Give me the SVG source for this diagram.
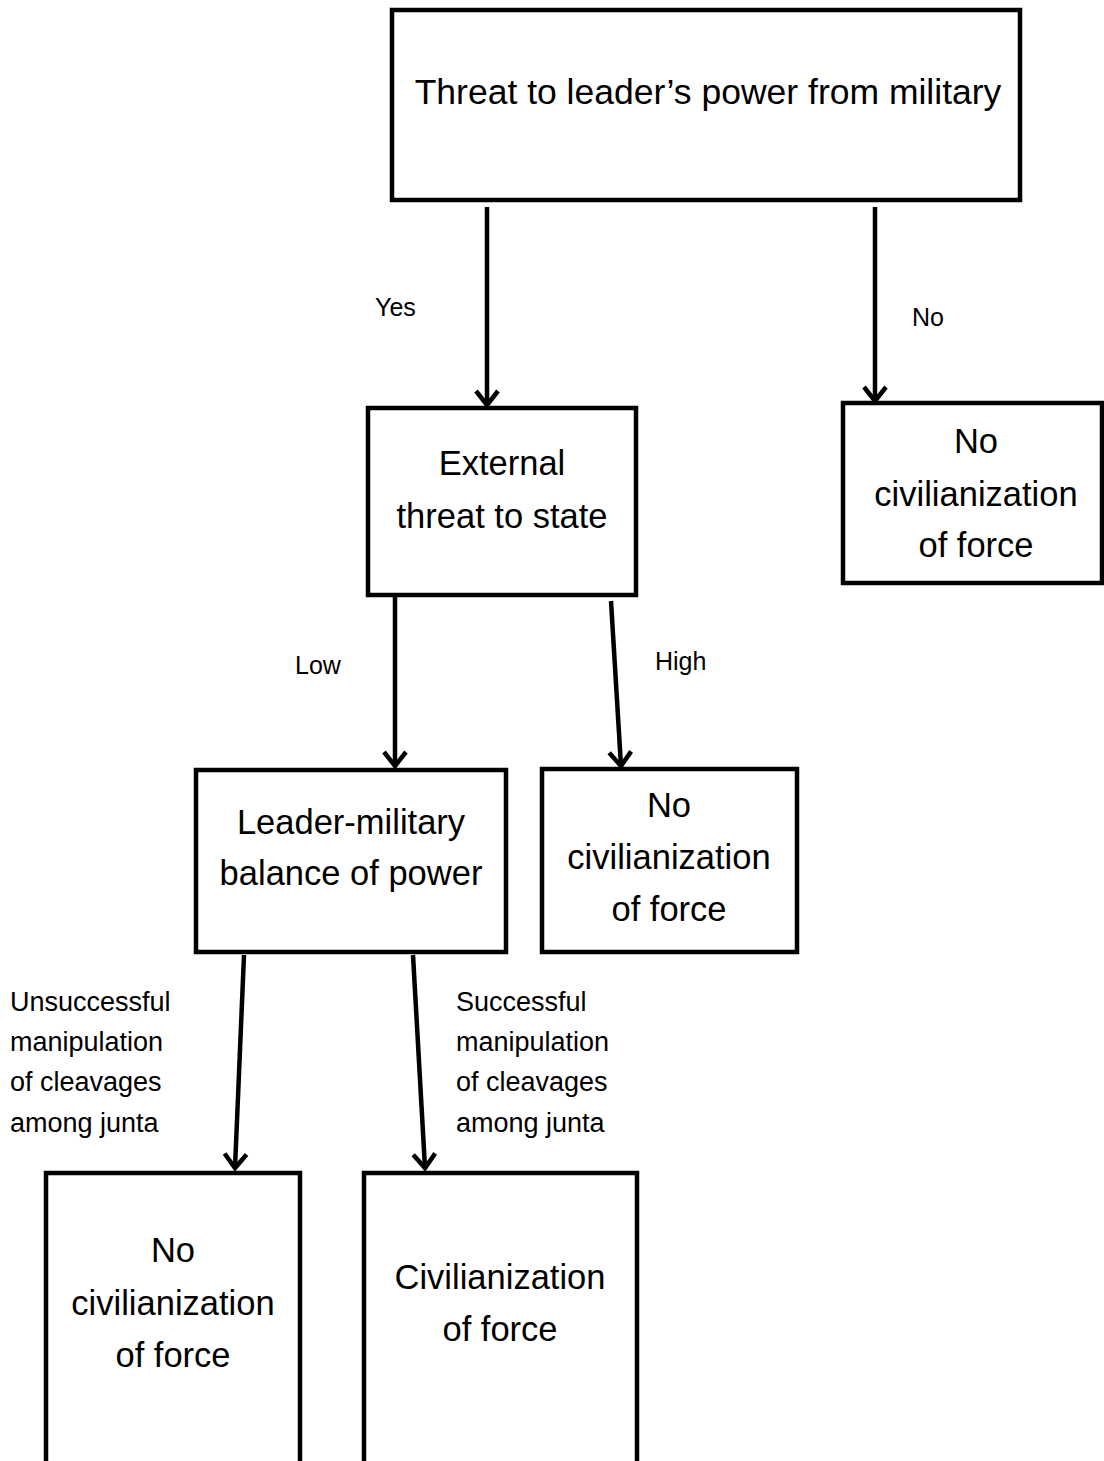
<svg xmlns="http://www.w3.org/2000/svg" width="1104" height="1461" viewBox="0 0 1104 1461">
<style>
.box{fill:#fff;stroke:#000;stroke-width:4.5}
.t{font-family:"Liberation Sans",Arial,sans-serif;font-size:34.5px;fill:#000;text-anchor:middle}
.l{font-family:"Liberation Sans",Arial,sans-serif;font-size:25px;fill:#000}
.m{font-family:"Liberation Sans",Arial,sans-serif;font-size:27px;fill:#000}
.c{stroke:#000;stroke-width:4.5;fill:none}
</style>
<defs>
<marker id="ah" markerUnits="userSpaceOnUse" viewBox="-20 -15 24 30" markerWidth="24" markerHeight="30" refX="0" refY="0" orient="auto">
<path d="M-14,-11 L0,0 L-14,11" fill="none" stroke="#000" stroke-width="4.5" stroke-linejoin="miter"/>
</marker>
</defs>
<rect width="1104" height="1461" fill="#fff"/>
<g id="connectors">
<line class="c" x1="487" y1="207" x2="487" y2="405" marker-end="url(#ah)"/>
<line class="c" x1="875" y1="207" x2="875" y2="401" marker-end="url(#ah)"/>
<line class="c" x1="395" y1="597" x2="395" y2="766" marker-end="url(#ah)"/>
<line class="c" x1="611" y1="601" x2="621" y2="766" marker-end="url(#ah)"/>
<line class="c" x1="244" y1="955" x2="235" y2="1168" marker-end="url(#ah)"/>
<line class="c" x1="413" y1="955" x2="425" y2="1168" marker-end="url(#ah)"/>
<text class="l" x="375" y="316">Yes</text>
<text class="l" x="912" y="326">No</text>
<text class="l" x="295" y="674">Low</text>
<text class="l" x="655" y="670">High</text>
<text class="m" x="10" y="1011">Unsuccessful</text>
<text class="m" x="10" y="1051">manipulation</text>
<text class="m" x="10" y="1091">of cleavages</text>
<text class="m" x="10" y="1132">among junta</text>
<text class="m" x="456" y="1011">Successful</text>
<text class="m" x="456" y="1051">manipulation</text>
<text class="m" x="456" y="1091">of cleavages</text>
<text class="m" x="456" y="1132">among junta</text>
</g>
<g id="n1">
<rect class="box" x="392" y="10" width="628" height="190"/>
<text class="t" x="708" y="104" style="font-size:35.5px">Threat to leader’s power from military</text>
</g>
<g id="n2">
<rect class="box" x="368" y="408" width="268" height="187"/>
<text class="t" x="502" y="475">External</text>
<text class="t" x="502" y="528">threat to state</text>
</g>
<g id="n3">
<rect class="box" x="843" y="403" width="259" height="180"/>
<text class="t" x="976" y="453">No</text>
<text class="t" x="976" y="506">civilianization</text>
<text class="t" x="976" y="557">of force</text>
</g>
<g id="n4">
<rect class="box" x="196" y="770" width="310" height="182"/>
<text class="t" x="351" y="834">Leader-military</text>
<text class="t" x="351" y="885">balance of power</text>
</g>
<g id="n5">
<rect class="box" x="542" y="769" width="255" height="183"/>
<text class="t" x="669" y="817">No</text>
<text class="t" x="669" y="869">civilianization</text>
<text class="t" x="669" y="921">of force</text>
</g>
<g id="n6">
<rect class="box" x="46" y="1173" width="254" height="310"/>
<text class="t" x="173" y="1262">No</text>
<text class="t" x="173" y="1315">civilianization</text>
<text class="t" x="173" y="1367">of force</text>
</g>
<g id="n7">
<rect class="box" x="364" y="1173" width="273" height="310"/>
<text class="t" x="500" y="1289">Civilianization</text>
<text class="t" x="500" y="1341">of force</text>
</g>
</svg>
